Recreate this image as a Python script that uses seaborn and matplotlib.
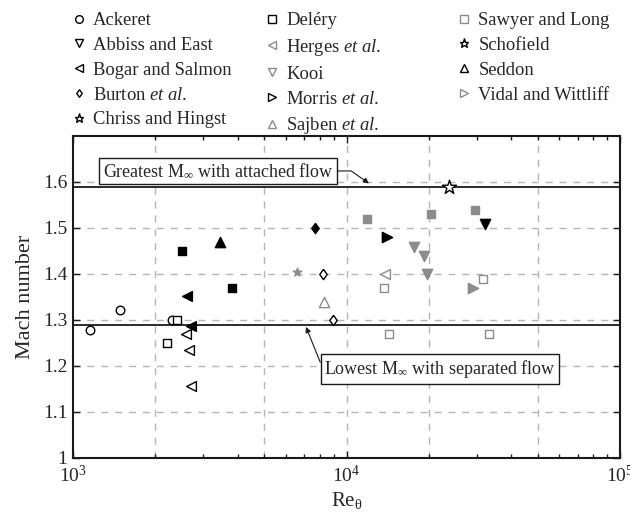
import numpy as np
import pandas as pd
import matplotlib
matplotlib.use("Agg")
import matplotlib.pyplot as plt
import seaborn as sns
from matplotlib.lines import Line2D
from matplotlib.ticker import FixedLocator, LogLocator, NullFormatter

sns.set_theme(style="ticks")
plt.rcParams["font.family"] = ["Liberation Serif", "DejaVu Serif"]
plt.rcParams["mathtext.fontset"] = "custom"
plt.rcParams["mathtext.rm"] = "Liberation Serif"
plt.rcParams["mathtext.it"] = "Liberation Serif:italic"
plt.rcParams["mathtext.bf"] = "Liberation Serif:bold"

BLACK = "#000000"
GRAY = "#8c8c8c"

# ---------------- data ----------------
ackeret_re = [1150, 1480, 2310]
ackeret_m = [1.278, 1.321, 1.299]
ackeret_f = [0, 0, 0]

abbiss_re = [32200]
abbiss_m = [1.509]
abbiss_f = [1]

bogar_re = [2620, 2700, 2600, 2650, 2700]
bogar_m = [1.352, 1.288, 1.269, 1.234, 1.157]
bogar_f = [1, 1, 0, 0, 0]

burton_re = [7690, 8220, 8950]
burton_m = [1.500, 1.400, 1.299]
burton_f = [1, 0, 0]

chriss_re = [6600]
chriss_m = [1.404]
chriss_f = [1]

delery_re = [2400, 2200, 2500, 3810]
delery_m = [1.299, 1.249, 1.450, 1.370]
delery_f = [0, 0, 1, 1]

herges_re = [13830]
herges_m = [1.399]
herges_f = [0]

kooi_re = [17700, 19250, 19640]
kooi_m = [1.459, 1.439, 1.399]
kooi_f = [1, 1, 1]

morris_re = [14090]
morris_m = [1.480]
morris_f = [1]

sajben_re = [8250]
sajben_m = [1.340]
sajben_f = [0]

sawyer_re = [11850, 20370, 29450, 13740, 14300, 31640, 33270]
sawyer_m = [1.520, 1.530, 1.540, 1.370, 1.269, 1.389, 1.269]
sawyer_f = [1, 1, 1, 0, 0, 0, 0]

schofield_re = [23770]
schofield_m = [1.590]
schofield_f = [0]

seddon_re = [3457]
seddon_m = [1.470]
seddon_f = [1]

vidal_re = [29010]
vidal_m = [1.369]
vidal_f = [1]

attached_limit = 1.59
separated_limit = 1.29

legend_labels = [
    "Ackeret", "Abbiss and East", "Bogar and Salmon", r"Burton $\it{et\ al.}$",
    "Chriss and Hingst", "Deléry", r"Herges $\it{et\ al.}$", "Kooi",
    r"Morris $\it{et\ al.}$", r"Sajben $\it{et\ al.}$", "Sawyer and Long",
    "Schofield", "Seddon", "Vidal and Wittliff",
]

diamond = [(0, 1), (0.72, 0), (0, -1), (-0.72, 0), (0, 1)]

# style per source: marker, plot colour, size, legend colour
styles = {
    "Ackeret": ("o", BLACK, 38, BLACK),
    "Abbiss and East": ("v", BLACK, 55, BLACK),
    "Bogar and Salmon": ("<", BLACK, 50, BLACK),
    "Burton": (diamond, BLACK, 55, BLACK),
    "Chriss and Hingst": ("*", GRAY, 40, BLACK),
    "Deléry": ("s", BLACK, 30, BLACK),
    "Herges": ("<", GRAY, 50, GRAY),
    "Kooi": ("v", GRAY, 55, GRAY),
    "Morris": (">", BLACK, 55, BLACK),
    "Sajben": ("^", GRAY, 55, GRAY),
    "Sawyer and Long": ("s", GRAY, 30, GRAY),
    "Schofield": ("*", BLACK, 110, BLACK),
    "Seddon": ("^", BLACK, 55, BLACK),
    "Vidal and Wittliff": (">", GRAY, 55, GRAY),
}

sources = [
    ("Ackeret", ackeret_re, ackeret_m, ackeret_f),
    ("Abbiss and East", abbiss_re, abbiss_m, abbiss_f),
    ("Bogar and Salmon", bogar_re, bogar_m, bogar_f),
    ("Burton", burton_re, burton_m, burton_f),
    ("Chriss and Hingst", chriss_re, chriss_m, chriss_f),
    ("Deléry", delery_re, delery_m, delery_f),
    ("Herges", herges_re, herges_m, herges_f),
    ("Kooi", kooi_re, kooi_m, kooi_f),
    ("Morris", morris_re, morris_m, morris_f),
    ("Sajben", sajben_re, sajben_m, sajben_f),
    ("Sawyer and Long", sawyer_re, sawyer_m, sawyer_f),
    ("Schofield", schofield_re, schofield_m, schofield_f),
    ("Seddon", seddon_re, seddon_m, seddon_f),
    ("Vidal and Wittliff", vidal_re, vidal_m, vidal_f),
]

rows = []
for name, re_, m_, f_ in sources:
    for r, m, f in zip(re_, m_, f_):
        rows.append({"source": name, "re": r, "mach": m, "filled": bool(f)})
df = pd.DataFrame(rows)

# ---------------- figure ----------------
fig = plt.figure(figsize=(6.3, 5.16), dpi=100)
ax = fig.add_axes([73 / 630, 1 - 458 / 516, (620 - 73) / 630, (458 - 136) / 516])
ax.set_xscale("log")
ax.set_xlim(1e3, 1e5)
ax.set_ylim(1.0, 1.7)

# grid
grid_kw = dict(color="#b5b5b5", lw=1.0, ls=(0, (5, 5)), zorder=0.5)
for yv in [1.1, 1.2, 1.3, 1.4, 1.5, 1.6]:
    ax.axhline(yv, **grid_kw)
for xv in [2e3, 5e3, 1e4, 2e4, 5e4]:
    ax.axvline(xv, **grid_kw)

ax.axhline(attached_limit, color="k", lw=1.3, zorder=1)
ax.axhline(separated_limit, color="k", lw=1.3, zorder=1)

for name, _, _, _ in sources:
    marker, col, s, _ = styles[name]
    sub = df[df["source"] == name]
    for filled in [True, False]:
        part = sub[sub["filled"] == filled]
        if part.empty:
            continue
        sns.scatterplot(
            data=part, x="re", y="mach", ax=ax, marker=marker, s=s,
            color=col, facecolor=(col if filled else "white"),
            edgecolor=col, linewidth=1.0, zorder=3, legend=False,
        )

# annotations
ax.annotate(
    r"Greatest M$_\infty$ with attached flow",
    xy=(12080, 1.597), xytext=(3388, 1.624),
    ha="center", va="center", fontsize=13,
    bbox=dict(boxstyle="square,pad=0.2", fc="white", ec="k", lw=1.0),
    arrowprops=dict(arrowstyle="-|>", color="k", lw=0.8, mutation_scale=8,
                    connectionstyle="angle,angleA=0,angleB=-35,rad=0",
                    shrinkA=0, shrinkB=0),
    zorder=4,
)
ax.annotate(
    r"Lowest M$_\infty$ with separated flow",
    xy=(7110, 1.285), xytext=(21980, 1.1935),
    ha="center", va="center", fontsize=13,
    bbox=dict(boxstyle="square,pad=0.2", fc="white", ec="k", lw=1.0),
    arrowprops=dict(arrowstyle="-|>", color="k", lw=0.8, mutation_scale=8,
                    connectionstyle="angle,angleA=0,angleB=112,rad=0",
                    shrinkA=0, shrinkB=0),
    zorder=4,
)

# ticks
ax.xaxis.set_major_locator(FixedLocator([1e3, 1e4, 1e5]))
ax.xaxis.set_minor_locator(LogLocator(base=10, subs=np.arange(2, 10)))
ax.xaxis.set_minor_formatter(NullFormatter())
ax.set_xticklabels([r"$10^3$", r"$10^4$", r"$10^5$"])
yt = [1.0, 1.1, 1.2, 1.3, 1.4, 1.5, 1.6]
ax.set_yticks(yt)
ax.set_yticklabels(["1", "1.1", "1.2", "1.3", "1.4", "1.5", "1.6"])
ax.tick_params(which="both", direction="in", top=True, right=True,
               labelsize=14, width=1.0, color="k")
ax.tick_params(which="major", length=5, pad=4)
ax.tick_params(axis="x", which="major", pad=5)
ax.tick_params(which="minor", length=3)
for sp in ax.spines.values():
    sp.set_linewidth(1.5)
    sp.set_color("k")

ax.set_xlabel(r"Re$_{\mathrm{\theta}}$", fontsize=15, labelpad=3)
ax.set_ylabel("Mach number", fontsize=16, labelpad=6)

# legend (three columns)
names = [n for n, *_ in sources]
handles = []
for n in names:
    marker, _, s, lcol = styles[n]
    ms = 5.5 if n not in ("Chriss and Hingst", "Schofield") else 6.5
    handles.append(Line2D([], [], ls="none", marker=marker, mfc="none",
                          mec=lcol, mew=1.0, ms=ms))
cols = [(0, 5, 70), (5, 10, 263), (10, 14, 455)]
for a, b, xpx in cols:
    fig.legend(handles[a:b], legend_labels[a:b], loc="upper left",
               bbox_to_anchor=(xpx / 630, 1 - 12 / 516), frameon=False,
               fontsize=13.4, handlelength=1.0, handletextpad=0.25,
               borderpad=0, borderaxespad=0, labelspacing=0.42)

fig.savefig("out.png", dpi=100)
